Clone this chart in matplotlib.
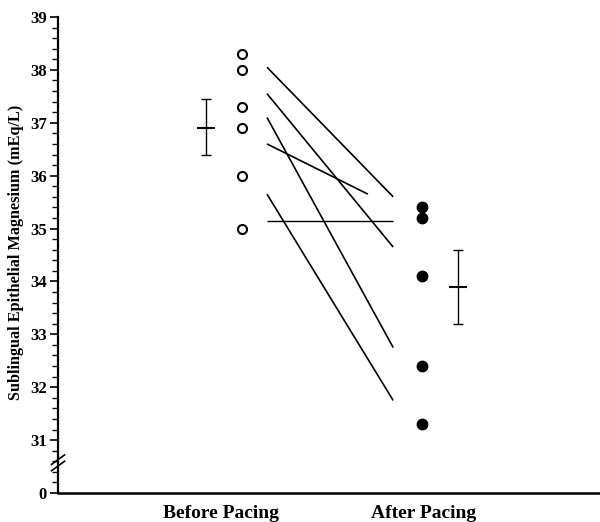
import matplotlib
matplotlib.use("Agg")
import matplotlib.pyplot as plt
import numpy as np
from matplotlib.ticker import FixedLocator, MultipleLocator

# ---- data ----
groups = ["Before Pacing", "After Pacing"]
before_vals = [38.3, 38.0, 37.3, 36.9, 36.0, 35.0]
after_vals = [35.4, 35.2, 34.1, 32.4, 31.3]
pair_start = [38.05, 37.55, 37.1, 36.6, 35.15, 35.65]
pair_end = [35.6, 34.65, 32.75, 35.65, 35.15, 31.75]
pair_x_end = [1.84, 1.84, 1.84, 1.70, 1.84, 1.84]
before_mean, before_lo, before_hi = 36.9, 36.4, 37.45
after_mean, after_lo, after_hi = 33.9, 33.2, 34.6
ytick_vals = [30, 31, 32, 33, 34, 35, 36, 37, 38, 39]
ytick_labels = ["0", "31", "32", "33", "34", "35", "36", "37", "38", "39"]

serif = ["Liberation Serif", "DejaVu Serif"]

fig = plt.figure(figsize=(6.0, 5.22), dpi=100)
ax = fig.add_axes([58/600, 29/522, 542/600, 476/522])

# pairing lines
for s, e, xe in zip(pair_start, pair_end, pair_x_end):
    ax.plot([1.139, xe], [s, e], color="black", lw=1.2 if s != e else 1.0,
            solid_capstyle="butt")

# points
ax.plot([1.0]*len(before_vals), before_vals, linestyle="none", marker="o",
        ms=6.5, mfc="white", mec="black", mew=1.5)
ax.plot([2.0]*len(after_vals), after_vals, linestyle="none", marker="o",
        ms=7.5, mfc="black", mec="black")

# mean +/- error
for x, m, lo, hi in [(0.8, before_mean, before_lo, before_hi),
                     (2.2, after_mean, after_lo, after_hi)]:
    ax.errorbar([x], [m], yerr=[[m - lo], [hi - m]], fmt="none",
                ecolor="black", elinewidth=1.0, capsize=3.5, capthick=1.0)
    ax.plot([x], [m], marker="_", ms=13, mew=1.5, color="black")

ax.set_xlim(-0.0222, 2.989)
ax.set_ylim(30, 39)

ax.spines["top"].set_visible(False)
ax.spines["right"].set_visible(False)
ax.spines["left"].set_linewidth(1.6)
ax.spines["bottom"].set_linewidth(1.8)

ax.yaxis.set_major_locator(FixedLocator(ytick_vals))
ax.set_yticklabels(ytick_labels, fontfamily=serif, fontweight="bold", fontsize=12)
ax.yaxis.set_minor_locator(MultipleLocator(0.2))
ax.tick_params(axis="y", which="major", length=6, width=1.2, pad=2)
ax.tick_params(axis="y", which="minor", length=4, width=1.0)

ax.set_xticks([0.883, 2.01])
ax.set_xticklabels(groups, fontfamily=serif, fontweight="bold", fontsize=14)
ax.tick_params(axis="x", length=0, pad=9)

ax.set_ylabel("Sublingual Epithelial Magnesium (mEq/L)", fontfamily=serif,
              fontweight="bold", fontsize=11.7)
ax.yaxis.set_label_coords(-0.062, 0.505)

# axis break mark
trans = ax.get_yaxis_transform()
for dy in (0.0, 0.12):
    ax.plot([-0.012, 0.012], [30.42 + dy, 30.60 + dy], transform=trans,
            color="black", lw=1.2, clip_on=False)
ax.plot([0, 0], [30.5, 30.64], transform=trans, color="white", lw=3,
        clip_on=False, zorder=1)

fig.savefig("out.png", dpi=100)
